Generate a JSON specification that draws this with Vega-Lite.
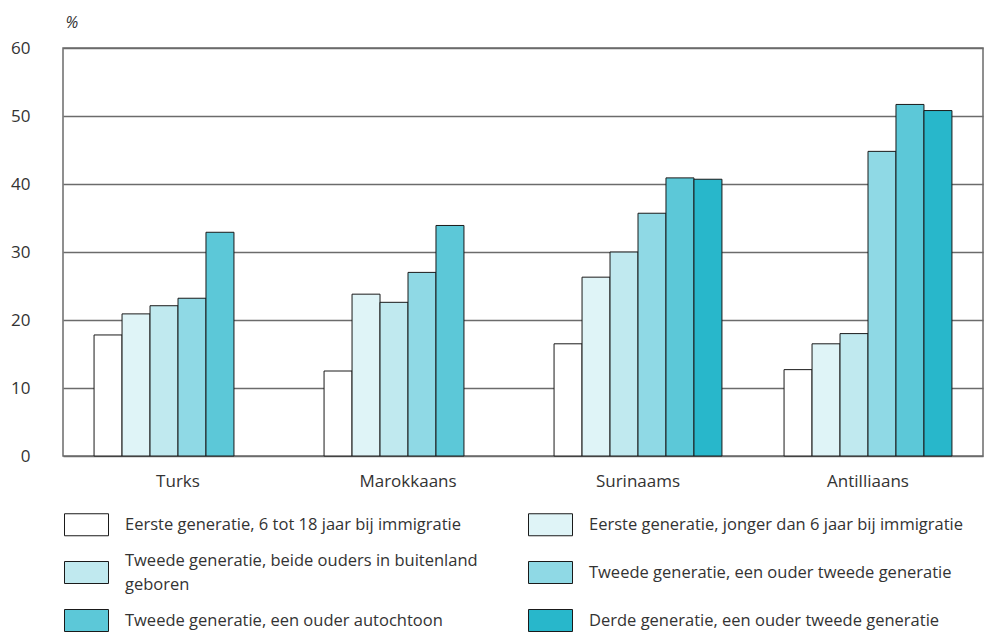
{
  "$schema": "https://vega.github.io/schema/vega-lite/v6.json",
  "width": 920,
  "height": 408,
  "autosize": {"type": "none"},
  "padding": {"left": 63, "top": 48, "right": 2, "bottom": 177},
  "background": "white",
  "config": {
    "font": "Open Sans",
    "view": {"stroke": "#6b6b6b", "strokeWidth": 1.5},
    "style": {"guide-label": {"lineHeight": 24}}
  },
  "data": {
    "values": [
      {"groep": "Turks", "cat": "Eerste generatie, 6 tot 18 jaar bij immigratie", "pct": 17.8},
      {"groep": "Turks", "cat": "Eerste generatie, jonger dan 6 jaar bij immigratie", "pct": 20.9},
      {"groep": "Turks", "cat": "Tweede generatie, beide ouders in buitenland geboren", "pct": 22.1},
      {"groep": "Turks", "cat": "Tweede generatie, een ouder tweede generatie", "pct": 23.2},
      {"groep": "Turks", "cat": "Tweede generatie, een ouder autochtoon", "pct": 32.9},
      {"groep": "Marokkaans", "cat": "Eerste generatie, 6 tot 18 jaar bij immigratie", "pct": 12.5},
      {"groep": "Marokkaans", "cat": "Eerste generatie, jonger dan 6 jaar bij immigratie", "pct": 23.8},
      {"groep": "Marokkaans", "cat": "Tweede generatie, beide ouders in buitenland geboren", "pct": 22.6},
      {"groep": "Marokkaans", "cat": "Tweede generatie, een ouder tweede generatie", "pct": 27.0},
      {"groep": "Marokkaans", "cat": "Tweede generatie, een ouder autochtoon", "pct": 33.9},
      {"groep": "Surinaams", "cat": "Eerste generatie, 6 tot 18 jaar bij immigratie", "pct": 16.5},
      {"groep": "Surinaams", "cat": "Eerste generatie, jonger dan 6 jaar bij immigratie", "pct": 26.3},
      {"groep": "Surinaams", "cat": "Tweede generatie, beide ouders in buitenland geboren", "pct": 30.0},
      {"groep": "Surinaams", "cat": "Tweede generatie, een ouder tweede generatie", "pct": 35.7},
      {"groep": "Surinaams", "cat": "Tweede generatie, een ouder autochtoon", "pct": 40.9},
      {"groep": "Surinaams", "cat": "Derde generatie, een ouder tweede generatie", "pct": 40.7},
      {"groep": "Antilliaans", "cat": "Eerste generatie, 6 tot 18 jaar bij immigratie", "pct": 12.7},
      {"groep": "Antilliaans", "cat": "Eerste generatie, jonger dan 6 jaar bij immigratie", "pct": 16.5},
      {"groep": "Antilliaans", "cat": "Tweede generatie, beide ouders in buitenland geboren", "pct": 18.0},
      {"groep": "Antilliaans", "cat": "Tweede generatie, een ouder tweede generatie", "pct": 44.8},
      {"groep": "Antilliaans", "cat": "Tweede generatie, een ouder autochtoon", "pct": 51.7},
      {"groep": "Antilliaans", "cat": "Derde generatie, een ouder tweede generatie", "pct": 50.8}
    ]
  },
  "mark": {"type": "bar", "stroke": "#1a1a1a", "strokeWidth": 1},
  "encoding": {
    "x": {
      "field": "groep",
      "type": "nominal",
      "sort": ["Turks", "Marokkaans", "Surinaams", "Antilliaans"],
      "scale": {"paddingInner": 0.27, "paddingOuter": 0.135},
      "axis": {
        "title": null,
        "labelAngle": 0,
        "ticks": false,
        "domain": false,
        "labelFontSize": 17,
        "labelColor": "#333333",
        "labelPadding": 17
      }
    },
    "xOffset": {
      "field": "cat",
      "type": "nominal",
      "sort": [
        "Eerste generatie, 6 tot 18 jaar bij immigratie",
        "Eerste generatie, jonger dan 6 jaar bij immigratie",
        "Tweede generatie, beide ouders in buitenland geboren",
        "Tweede generatie, een ouder tweede generatie",
        "Tweede generatie, een ouder autochtoon",
        "Derde generatie, een ouder tweede generatie"
      ],
      "scale": {
        "domain": [
          "Eerste generatie, 6 tot 18 jaar bij immigratie",
          "Eerste generatie, jonger dan 6 jaar bij immigratie",
          "Tweede generatie, beide ouders in buitenland geboren",
          "Tweede generatie, een ouder tweede generatie",
          "Tweede generatie, een ouder autochtoon",
          "Derde generatie, een ouder tweede generatie"
        ],
        "paddingInner": 0,
        "paddingOuter": 0
      }
    },
    "y": {
      "field": "pct",
      "type": "quantitative",
      "scale": {"domain": [0, 60], "nice": false},
      "axis": {
        "values": [0, 10, 20, 30, 40, 50, 60],
        "title": "%",
        "titleAngle": 0,
        "titleX": 2,
        "titleY": -26,
        "titleAlign": "left",
        "titleBaseline": "middle",
        "titleFontStyle": "italic",
        "titleFontWeight": "normal",
        "titleFontSize": 16,
        "titleColor": "#333333",
        "ticks": false,
        "domain": false,
        "labelFontSize": 17,
        "labelColor": "#333333",
        "labelPadding": 33,
        "gridColor": "#6b6b6b",
        "gridWidth": 1.5,
        "gridOpacity": 1
      }
    },
    "color": {
      "field": "cat",
      "type": "nominal",
      "scale": {
        "domain": [
          "Eerste generatie, 6 tot 18 jaar bij immigratie",
          "Tweede generatie, beide ouders in buitenland geboren",
          "Tweede generatie, een ouder autochtoon",
          "Eerste generatie, jonger dan 6 jaar bij immigratie",
          "Tweede generatie, een ouder tweede generatie",
          "Derde generatie, een ouder tweede generatie"
        ],
        "range": ["#ffffff", "#c0e9ef", "#5cc8d8", "#dff4f7", "#8fd9e5", "#28b7cb"]
      },
      "legend": {
        "title": null,
        "orient": "none",
        "legendX": 12,
        "legendY": 465,
        "columns": 2,
        "symbolType": "M-2,-1H2V1H-2Z",
        "symbolSize": 484,
        "symbolStrokeColor": "#1a1a1a",
        "symbolStrokeWidth": 1,
        "symbolOpacity": 1,
        "labelFontSize": 16.5,
        "labelColor": "#333333",
        "labelOffset": 27,
        "labelLimit": 600,
        "columnPadding": 48,
        "rowPadding": 14,
        "labelExpr": "datum.label == 'Tweede generatie, beide ouders in buitenland geboren' ? ['Tweede generatie, beide ouders in buitenland', 'geboren'] : datum.label",
        "encoding": {
          "labels": {
            "dy": {
              "condition": {"test": "datum.value == 'Tweede generatie, beide ouders in buitenland geboren'", "value": -12},
              "value": 0
            }
          }
        }
      }
    }
  }
}
